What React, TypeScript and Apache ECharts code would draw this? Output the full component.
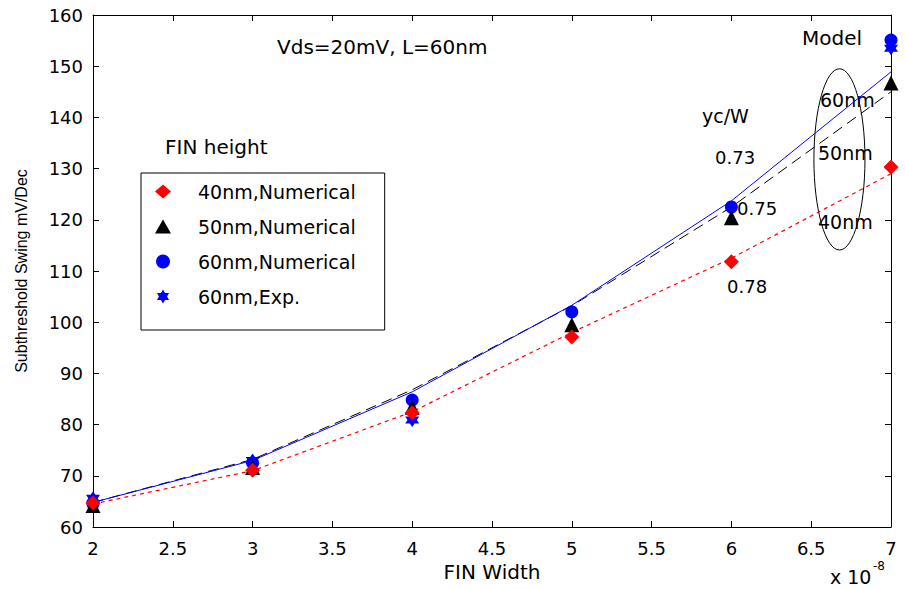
import React, { useEffect, useRef } from "react";
import * as echarts from "echarts";

// FIN width (x 1e-8 m)
const xs = [2, 3, 4, 5, 6, 7];
const xsExp = [2, 3, 4, 7];

// Numerical data (mV/Dec)
const num40 = [64.7, 71.1, 82.3, 97.1, 111.8, 130.3];
const num50 = [64.2, 71.6, 83.4, 99.5, 120.4, 146.7];
const num60 = [64.5, 72.5, 84.8, 102, 122.5, 155.1];
const exp60 = [65.6, 73, 80.9, 153.5];

// Model curves
const model40 = [64.5, 71, 82.5, 98, 112.5, 129];
const model50 = [64.8, 73.2, 86.8, 103.2, 122.5, 145];
const model60 = [64.8, 73, 86.4, 103.3, 123.7, 148.9];

// Ellipse annotation: [centerX, centerY, radiusX, radiusY]
const ellipseData = [[6.677, 131.8, 0.16, 17.7]];

const yTicks = { min: 60, max: 160, interval: 10 };
const xTicks = { min: 2, max: 7, interval: 0.5 };

const legendNames = ["40nm,Numerical", "50nm,Numerical", "60nm,Numerical", "60nm,Exp."];

const STAR = "path://M0,-10 L2.9,-5 L8.66,-5 L5.8,0 L8.66,5 L2.9,5 L0,10 L-2.9,5 L-8.66,5 L-5.8,0 L-8.66,-5 L-2.9,-5 Z";

const pair = (x: number[], y: number[]) => x.map((v, i) => [v, y[i]]);

export default function App() {
  const ref = useRef<HTMLDivElement>(null);
  useEffect(() => {
    if (!ref.current) return;
    const chart = echarts.init(ref.current, null, { renderer: "svg" });
    const font = "DejaVu Sans";
    const txt = (text: string, x: number, y: number, size = 19) => ({
      type: "text",
      x,
      y,
      style: { text, fill: "#000", fontFamily: font, fontSize: size, verticalAlign: "middle" },
    });
    const axisCommon = {
      axisLine: { show: true, lineStyle: { color: "#000", width: 1 } },
      axisTick: { show: true, inside: true, length: 6, lineStyle: { color: "#000" } },
      splitLine: { show: false },
    };
    chart.setOption({
      animation: false,
      backgroundColor: "#fff",
      textStyle: { fontFamily: font },
      grid: { left: 93, right: 14, top: 15, bottom: 62 },
      xAxis: [
        {
          type: "value",
          ...xTicks,
          ...axisCommon,
          name: "FIN Width",
          nameLocation: "middle",
          nameGap: 30,
          nameTextStyle: { fontSize: 20, color: "#000", fontFamily: font },
          axisLabel: { fontSize: 18, color: "#000", margin: 12, fontFamily: font },
        },
        {
          type: "value",
          position: "top",
          ...xTicks,
          ...axisCommon,
          axisLabel: { show: false },
        },
      ],
      yAxis: [
        {
          type: "value",
          ...yTicks,
          ...axisCommon,
          name: "Subthreshold Swing mV/Dec",
          nameLocation: "middle",
          nameRotate: 90,
          nameGap: 64,
          nameTextStyle: { fontSize: 16, color: "#000", fontFamily: "Liberation Sans" },
          axisLabel: { fontSize: 18, color: "#000", margin: 10, fontFamily: font },
        },
        {
          type: "value",
          position: "right",
          ...yTicks,
          ...axisCommon,
          axisLabel: { show: false },
        },
      ],
      legend: {
        data: legendNames,
        orient: "vertical",
        left: 141,
        top: 173,
        itemWidth: 16,
        itemHeight: 14,
        itemGap: 16,
        padding: [9, 29, 24, 14],
        borderColor: "#000",
        borderWidth: 1,
        selectedMode: false,
        textStyle: { fontSize: 19, color: "#000", fontFamily: font, padding: [0, 0, 0, 22] },
      },
      series: [
        {
          type: "custom",
          silent: true,
          z: 1,
          data: ellipseData,
          renderItem: (_p: any, api: any) => {
            const c = api.coord([api.value(0), api.value(1)]);
            const s = api.size([api.value(2), api.value(3)]);
            return {
              type: "ellipse",
              shape: { cx: c[0], cy: c[1], rx: s[0], ry: s[1] },
              style: { fill: "none", stroke: "#000", lineWidth: 1 },
            };
          },
        },
        {
          name: "Model 40nm",
          type: "line",
          data: pair(xs, model40),
          showSymbol: false,
          lineStyle: { color: "#ff0000", width: 1.2, type: [4, 4] },
          z: 2,
        },
        {
          name: "Model 50nm",
          type: "line",
          data: pair(xs, model50),
          showSymbol: false,
          lineStyle: { color: "#000", width: 1, type: [11, 6] },
          z: 2,
        },
        {
          name: "Model 60nm",
          type: "line",
          data: pair(xs, model60),
          showSymbol: false,
          lineStyle: { color: "#0000ff", width: 1 },
          z: 2,
        },
        {
          name: "60nm,Exp.",
          type: "scatter",
          data: pair(xsExp, exp60),
          symbol: STAR,
          symbolSize: 14,
          itemStyle: { color: "#0000ff", opacity: 1 },
          z: 3,
        },
        {
          name: "60nm,Numerical",
          type: "scatter",
          data: pair(xs, num60),
          symbol: "circle",
          symbolSize: 13,
          itemStyle: { color: "#0000ff", opacity: 1 },
          z: 4,
        },
        {
          name: "50nm,Numerical",
          type: "scatter",
          data: pair(xs, num50),
          symbol: "triangle",
          symbolSize: 15,
          itemStyle: { color: "#000", opacity: 1 },
          z: 5,
        },
        {
          name: "40nm,Numerical",
          type: "scatter",
          data: pair(xs, num40),
          symbol: "diamond",
          symbolSize: 15,
          itemStyle: { color: "#ff0000", opacity: 1 },
          z: 6,
        },
      ],
      graphic: [
        txt("Vds=20mV, L=60nm", 277, 47, 20),
        txt("FIN height", 165, 147, 20),
        txt("Model", 802, 38, 20),
        txt("yc/W", 702, 116, 19),
        txt("0.73", 715, 157, 18),
        txt("0.75", 737, 208, 18),
        txt("0.78", 727, 286, 18),
        txt("60nm", 820, 100, 19),
        txt("50nm", 818, 153, 19),
        txt("40nm", 818, 222, 19),
        txt("x 10", 830, 577, 19),
        txt("-8", 873, 566, 12),
      ],
    });
    return () => chart.dispose();
  }, []);
  return (
    <div
      ref={ref}
      style={{ position: "fixed", left: 0, top: 0, width: 905, height: 589 }}
    />
  );
}
